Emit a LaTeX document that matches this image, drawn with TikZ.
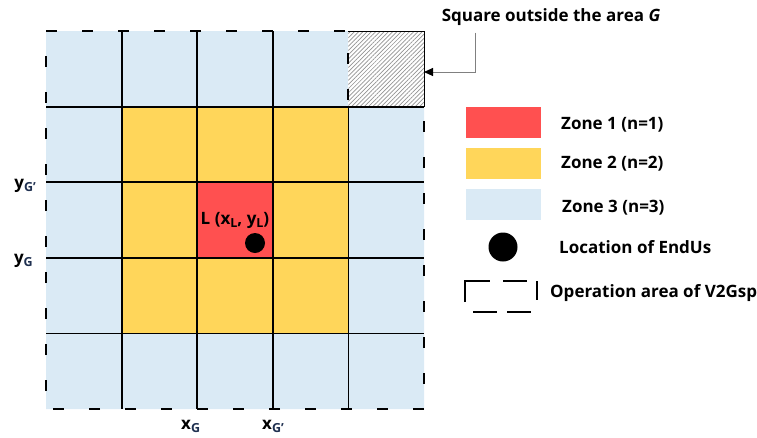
\documentclass[tikz,border=0pt]{standalone}
\usepackage{fontspec}
\setmainfont{Open Sans}
\usetikzlibrary{patterns.meta,arrows.meta}
\definecolor{zoneA}{HTML}{FF5050}
\definecolor{zoneB}{HTML}{FFD65A}
\definecolor{zoneC}{HTML}{DAEAF5}
\definecolor{subblue}{HTML}{1F3050}
\newcommand\sbs[2][black]{\raisebox{-0.22em}{\fontsize{12.5}{13}\selectfont\color{#1}#2}}
\tikzset{
  txt/.style={inner sep=0pt, font=\fontsize{17}{20}\selectfont\bfseries},
  gridline/.style={line width=1.8pt, black},
  bound/.style={line width=2pt, black, dash pattern=on 11pt off 25pt},
  legdash/.style={line width=2.6pt, black},
}
\begin{document}
\begin{tikzpicture}[x=1pt,y=-1pt]
\useasboundingbox (0,0) rectangle (757,437);
% fills
\fill[zoneC] (46,31) -- (348.4,31) -- (348.4,106.6) -- (424,106.6) -- (424,409) -- (46,409) -- cycle;
\fill[zoneB] (121.6,106.6) rectangle (348.4,333.4);
\fill[zoneA] (197.2,182.2) rectangle (272.8,257.8);
% hatched square outside G
\fill[white] (348.4,31) rectangle (424,106.6);
\fill[pattern={Lines[angle=45,distance=3pt,line width=0.7pt]}, pattern color=gray!85] (348.4,31) rectangle (424,106.6);
\draw[line width=1pt] (348.4,31) -- (424,31) -- (424,106.6);
% interior grid
\foreach \x in {121.6,197.2,272.8}
  \draw[gridline] (\x,31) -- (\x,409);
\draw[gridline] (348.4,106.6) -- (348.4,409);
\foreach \y in {106.6,182.2,257.8,333.4}
  \draw[gridline] (46,\y) -- (424,\y);
% boundary of operation area
\draw[bound] (46,31) -- (348.4,31) -- (348.4,106.6) -- (424,106.6) -- (424,409) -- (46,409) -- cycle;
% end user
\node[txt] (Llab) at (235,220) {L (x\sbs{L}, y\sbs{L})};
\fill (255,243) circle (10);
% axis labels
\node[txt, anchor=base east] (yGp) at (36,188) {y\sbs[subblue]{G'}};
\node[txt, anchor=base east] (yG) at (33,263) {y\sbs[subblue]{G}};
\node[txt, anchor=base west] (xG) at (181,429) {x\sbs[subblue]{G}};
\node[txt, anchor=base west] (xGp) at (262,429) {x\sbs[subblue]{G'}};
% outside label and arrow
\node[txt] (outlab) at (551,17) {Square outside the area \textit{G}};
\coordinate (bend) at (475,72);
\coordinate (hatchE) at (424,72);
\draw[gray, line width=1pt, -{Triangle[length=9pt,width=8pt,black]}] (bend |- outlab.south) ++(0,7) -- (bend) -- (hatchE);
% legend
\fill[zoneA] (466,107) rectangle (541,138);
\node[txt, anchor=west] (z1) at (561,125) {Zone 1 (n=1)};
\fill[zoneB] (466,148) rectangle (541,179);
\node[txt, anchor=west] (z2) at (561,164) {Zone 2 (n=2)};
\fill[zoneC] (466,189) rectangle (541,220);
\node[txt, anchor=west] (z3) at (562,208) {Zone 3 (n=3)};
\fill (503,247) circle (14.5);
\node[txt, anchor=west] (loc) at (559,247) {Location of EndUs};
\draw[legdash] (465,302) -- (465,281) -- (490,281);
\draw[legdash] (503,281) -- (527,281);
\draw[legdash] (537,281) -- (537,300);
\draw[legdash] (473,312) -- (497,312);
\draw[legdash] (507,312) -- (531,312);
\node[txt, anchor=west] (op) at (550,293) {Operation area of V2Gsp};
\end{tikzpicture}
\end{document}
